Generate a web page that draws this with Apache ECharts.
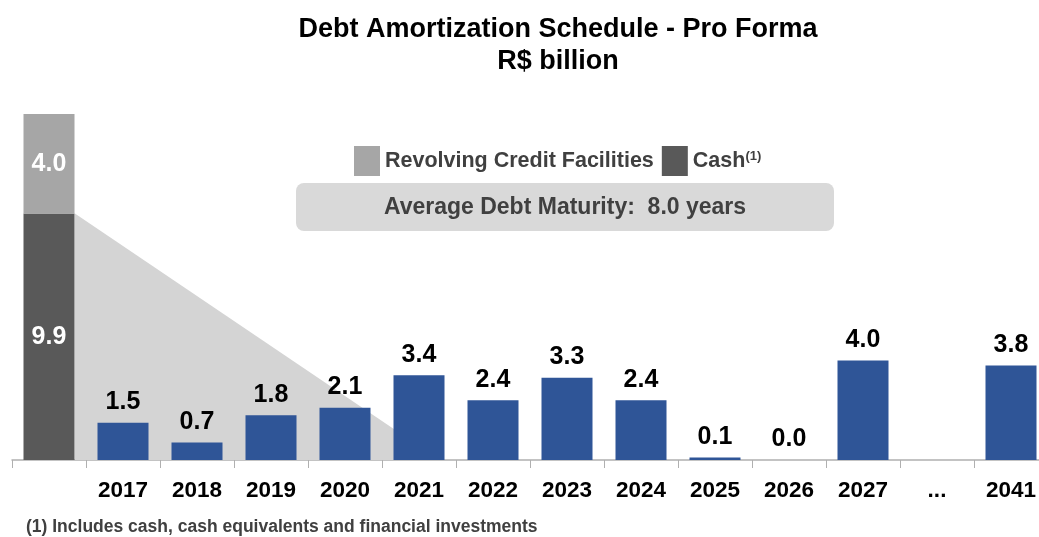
<!DOCTYPE html>
<html><head><meta charset="utf-8">
<script src="https://cdn.jsdelivr.net/npm/echarts@6/dist/echarts.min.js"></script>
<style>html,body{margin:0;padding:0;background:#fff;overflow:hidden;width:1039px;height:537px}#c{width:1048px;height:537px}</style>
</head><body><div id="c"></div>
<script>
const categories = ['', '2017', '2018', '2019', '2020', '2021', '2022', '2023', '2024', '2025', '2026', '2027', '...', '2041'];
const cashValues = [9.9, null, null, null, null, null, null, null, null, null, null, null, null, null];
const revolvingValues = [4.0, null, null, null, null, null, null, null, null, null, null, null, null, null];
const debtValues = [null, 1.5, 0.7, 1.8, 2.1, 3.4, 2.4, 3.3, 2.4, 0.1, 0.0, 4.0, null, 3.8];
// shaded wedge from top of cash bar down to the axis (value-axis units: category slots)
const wedgePoints = [[0.85, 9.9], [0.85, 0], [5.78, 0]];

const chart = echarts.init(document.getElementById('c'));
const F = 'Liberation Sans, Arial, sans-serif';
chart.setOption({
  animation: false,
  textStyle: { fontFamily: F },
  grid: { left: 12, top: 114, width: 1036, height: 346 },
  legend: {
    left: 349, top: 141, itemWidth: 26, itemHeight: 30, itemGap: 8,
    data: ['Revolving Credit Facilities', 'Cash'],
    icon: 'rect',
    textStyle: { fontSize: 21.5, fontWeight: 'bold', color: '#404040', fontFamily: F,
      rich: { sup: { fontSize: 13, fontWeight: 'bold', color: '#404040', verticalAlign: 'top', padding: [0,0,9,0] } } },
    formatter: n => n === 'Cash' ? 'Cash{sup|(1)}' : n
  },
  xAxis: [{
    type: 'category', data: categories,
    axisLine: { lineStyle: { color: '#b0b0b0', width: 1.5 } },
    axisTick: { show: true, interval: 0, length: 8, lineStyle: { color: '#b0b0b0' } },
    axisLabel: { interval: 0, fontSize: 22.5, fontWeight: 'bold', color: '#000', margin: 19, fontFamily: F }
  }, {
    type: 'value', min: 0, max: 14, show: false
  }],
  yAxis: { type: 'value', min: 0, max: 13.9, show: false },
  series: [
    {
      type: 'custom', xAxisIndex: 1, z: 1, silent: true,
      data: wedgePoints,
      renderItem: (params, api) => {
        if (params.dataIndex !== 0) return null;
        const pts = wedgePoints.map(p => api.coord(p));
        return { type: 'polygon', shape: { points: pts }, style: { fill: '#d4d4d4' } };
      }
    },
    {
      name: 'Cash', type: 'bar', stack: 'c', data: cashValues, barWidth: 51, z: 3,
      itemStyle: { color: '#595959' },
      label: { show: true, position: 'inside', color: '#fff', fontSize: 25, fontWeight: 'bold', formatter: p => p.value.toFixed(1) }
    },
    {
      name: 'Revolving Credit Facilities', type: 'bar', stack: 'c', data: revolvingValues, barWidth: 51, z: 3,
      itemStyle: { color: '#a6a6a6' },
      label: { show: true, position: 'inside', color: '#fff', fontSize: 25, fontWeight: 'bold', formatter: p => p.value.toFixed(1) }
    },
    {
      name: 'Debt', type: 'bar', data: debtValues, barWidth: 51, barGap: '-100%', z: 3,
      itemStyle: { color: '#2f5597' },
      label: { show: true, position: 'top', distance: 8, color: '#000', fontSize: 25, fontWeight: 'bold', formatter: p => p.value.toFixed(1) }
    }
  ],
  graphic: [
    { type: 'text', x: 558, y: 14, style: { text: 'Debt Amortization Schedule - Pro Forma\nR$ billion', textAlign: 'center', fontSize: 27, fontWeight: 'bold', lineHeight: 32, fill: '#000', fontFamily: F } },
    { type: 'rect', shape: { x: 296, y: 183, width: 538, height: 48, r: 8 }, style: { fill: '#d9d9d9' }, z: 5 },
    { type: 'text', x: 565, y: 208, z: 6, style: { text: 'Average Debt Maturity:  8.0 years', textAlign: 'center', textVerticalAlign: 'middle', fontSize: 23, fontWeight: 'bold', fill: '#404040', fontFamily: F } },
    { type: 'text', x: 26, y: 527, style: { text: '(1) Includes cash, cash equivalents and financial investments', textVerticalAlign: 'middle', fontSize: 17.5, fontWeight: 'bold', fill: '#404040', fontFamily: F } }
  ]
});
</script></body></html>
